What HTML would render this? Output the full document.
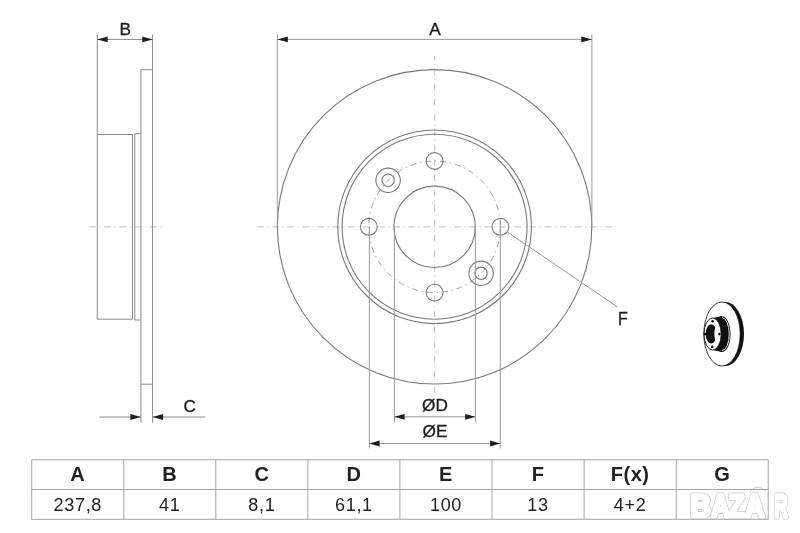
<!DOCTYPE html>
<html><head><meta charset="utf-8">
<style>
html,body{margin:0;padding:0;background:#fff;}
body{width:800px;height:533px;overflow:hidden;position:relative;}
svg{position:absolute;left:0;top:0;will-change:transform;}
text{font-family:"Liberation Sans",sans-serif;}
</style></head><body>
<svg width="800" height="533" viewBox="0 0 800 533">
<rect x="0" y="0" width="800" height="533" fill="#fff"/>

<!-- ===== SIDE VIEW ===== -->
<g fill="none" stroke="#9a9a9a" stroke-width="1">
  <!-- center line -->
  <line x1="89" y1="226.9" x2="162" y2="226.9" stroke="#cccccc" stroke-width="1.2" stroke-dasharray="6.75,3.7,1.1,3.64"/>
</g>
<g fill="none" stroke="#8a8a8a" stroke-width="1">
  <!-- hub -->
  <path d="M97.3,134.5 H132.5 V319.2 H97.3 Z"/>
  <!-- flange -->
  <path d="M134.8,133.8 H140.9 M134.8,133.8 V320 H140.9 M132.5,134.5 V319.2"/>
  <!-- plate -->
  <rect x="140.9" y="69.7" width="11.7" height="314.5"/>
  <!-- B extension -->
  <line x1="97.3" y1="34.5" x2="97.3" y2="134.5"/>
  <line x1="152.6" y1="34.5" x2="152.6" y2="69.7"/>
  <line x1="97.3" y1="39.4" x2="152.6" y2="39.4"/>
  <!-- C extension -->
  <line x1="140.9" y1="384.2" x2="140.9" y2="422.8"/>
  <line x1="152.6" y1="384.2" x2="152.6" y2="422.8"/>
  <line x1="99.5" y1="417" x2="140.9" y2="417"/>
  <line x1="152.6" y1="417" x2="205.3" y2="417"/>
</g>
<g fill="#1e1e1e">
  <path d="M97.3,39.4 L107.6,36.5 L107.6,42.3 Z"/>
  <path d="M152.6,39.4 L142.3,36.5 L142.3,42.3 Z"/>
  <path d="M140.9,417.0 L130.4,414.10 L130.4,419.90 Z"/>
  <path d="M152.6,417.0 L163.1,414.10 L163.1,419.90 Z"/>
</g>
<text x="125.3" y="34.6" font-size="17.2" text-anchor="middle" fill="#1a1a1a" stroke="#1a1a1a" stroke-width="0.3">B</text>
<text x="189.8" y="412" font-size="17.2" text-anchor="middle" fill="#1a1a1a" stroke="#1a1a1a" stroke-width="0.3">C</text>

<!-- ===== FRONT VIEW ===== -->
<g fill="none" stroke="#c0c0c0" stroke-width="1">
  <line x1="257" y1="226.9" x2="611.7" y2="226.9" stroke="#cdcdcd" stroke-width="1.2" stroke-dasharray="6.75,3.7,1.1,3.59"/>
  <line x1="434.6" y1="56" x2="434.6" y2="392.4" stroke="#cdcdcd" stroke-width="1.2" stroke-dasharray="6.75,3.7,1.1,3.59" stroke-dashoffset="2.64"/>
  <circle cx="434.6" cy="226.8" r="65.8" stroke="#a2a2a2" stroke-dasharray="6,3.8,1.4,3.8"/>
</g>
<g fill="none" stroke="#7a7a7a" stroke-width="1.1">
  <circle cx="434.6" cy="226.8" r="157.2"/>
  <circle cx="434.6" cy="226.8" r="96.8"/>
  <circle cx="434.6" cy="226.8" r="92.5"/>
  <circle cx="434.6" cy="226.8" r="40.7"/>
  <circle cx="500.4" cy="226.8" r="8.4"/>
  <circle cx="368.8" cy="226.8" r="8.4"/>
  <circle cx="434.6" cy="161" r="8.4"/>
  <circle cx="434.6" cy="292.6" r="8.4"/>
  <circle cx="388.1" cy="180.3" r="12.2"/>
  <circle cx="388.1" cy="180.3" r="6.15"/>
  <circle cx="481.1" cy="273.3" r="12.2"/>
  <circle cx="481.1" cy="273.3" r="6.15"/>
</g>
<g fill="none" stroke="#9a9a9a" stroke-width="1">
  <!-- A -->
  <line x1="277.3" y1="34.5" x2="277.3" y2="226.8"/>
  <line x1="591.9" y1="34.5" x2="591.9" y2="226.8"/>
  <line x1="277.3" y1="39.4" x2="591.9" y2="39.4"/>
  <!-- D -->
  <line x1="394.4" y1="226.8" x2="394.4" y2="422.4"/>
  <line x1="475.4" y1="226.8" x2="475.4" y2="422.4"/>
  <line x1="394.4" y1="416.8" x2="475.4" y2="416.8"/>
  <!-- E -->
  <line x1="369.4" y1="226.8" x2="369.4" y2="448.4"/>
  <line x1="500.3" y1="221" x2="500.3" y2="448.4"/>
  <line x1="369.4" y1="443.5" x2="500.3" y2="443.5"/>
  <!-- F leader -->
  <line x1="507.6" y1="232.2" x2="617.4" y2="306.9"/>
</g>
<g fill="#1e1e1e">
  <path d="M277.3,39.4 L287.9,36.5 L287.9,42.3 Z"/>
  <path d="M591.9,39.4 L581.3,36.5 L581.3,42.3 Z"/>
  <path d="M394.4,416.8 L404.6,413.90 L404.6,419.70 Z"/>
  <path d="M475.4,416.8 L465.2,413.90 L465.2,419.70 Z"/>
  <path d="M369.4,443.5 L379.6,440.6 L379.6,446.4 Z"/>
  <path d="M500.3,443.5 L490.1,440.6 L490.1,446.4 Z"/>
</g>
<text x="435" y="34.6" font-size="17.2" text-anchor="middle" fill="#1a1a1a" stroke="#1a1a1a" stroke-width="0.3">A</text>
<text x="435" y="410.5" font-size="17.2" text-anchor="middle" fill="#1a1a1a" stroke="#1a1a1a" stroke-width="0.3">ØD</text>
<text x="435" y="437" font-size="17.2" text-anchor="middle" fill="#1a1a1a" stroke="#1a1a1a" stroke-width="0.3">ØE</text>
<text transform="translate(617.9,325.3) scale(0.9,1)" font-size="17.8" fill="#1a1a1a" stroke="#1a1a1a" stroke-width="0.3">F</text>

<!-- ===== SMALL DISC ICON ===== -->
<g>
  <ellipse cx="725" cy="334" rx="19" ry="32.1" fill="#111"/>
  <ellipse cx="722" cy="334" rx="18.2" ry="32" fill="#fff" stroke="#111" stroke-width="0.8"/>
  <ellipse cx="722" cy="334.1" rx="8.6" ry="17.8" fill="#111"/>
  <path d="M712.6,318 L722,316.3 L722,351.9 L712.6,350 Z" fill="#111"/>
  <path d="M722,317.6 A7.2,16.4 0 0 1 722,350.6" fill="none" stroke="#fff" stroke-width="0.9"/>
  <ellipse cx="712.6" cy="334" rx="8.6" ry="16" fill="#fff" stroke="#111" stroke-width="0.9"/>
  <ellipse cx="711.2" cy="333.9" rx="5.5" ry="9.6" fill="#111"/>
  <ellipse cx="716.6" cy="334" rx="2.2" ry="7.8" fill="#fff"/>
  <circle cx="712.6" cy="321.3" r="1.3" fill="#111"/>
  <circle cx="719.4" cy="334.1" r="1.3" fill="#111"/>
  <circle cx="712.2" cy="346.9" r="1.3" fill="#111"/>
  <circle cx="705" cy="334.1" r="1.3" fill="#111"/>
</g>

<!-- ===== TABLE ===== -->

<g font-size="18" text-anchor="middle" fill="#222" letter-spacing="0.7">
  <g font-weight="bold" font-size="20" letter-spacing="0.5">
    <text x="77.8" y="481">A</text>
    <text x="169.8" y="481">B</text>
    <text x="261.9" y="481">C</text>
    <text x="353.9" y="481">D</text>
    <text x="446" y="481">E</text>
    <text x="538" y="481">F</text>
    <text x="630.1" y="481">F(x)</text>
    <text x="722.2" y="481">G</text>
  </g>
  <text x="77.8" y="510.6">237,8</text>
  <text x="169.8" y="510.6">41</text>
  <text x="261.9" y="510.6">8,1</text>
  <text x="353.9" y="510.6">61,1</text>
  <text x="446" y="510.6">100</text>
  <text x="538" y="510.6">13</text>
  <text x="630.1" y="510.6">4+2</text>
</g>

<!-- ===== WATERMARK ===== -->
<g font-size="32" font-weight="bold" fill="#fff" stroke-linejoin="round">
  <g stroke="#c6c6c6" stroke-width="5">
    <text transform="translate(690.6,517) scale(0.88,1)">B</text>
    <text transform="translate(711.2,517) scale(0.8,1)">A</text>
    <text transform="translate(728.6,517) scale(0.82,1)">Z</text>
    <text transform="translate(745,517) scale(0.84,1)">A</text>
    <text transform="translate(774.2,517) scale(0.58,1)">R</text>
  </g>
  <g stroke="#fff" stroke-width="3.4">
    <text transform="translate(690.6,517) scale(0.88,1)">B</text>
    <text transform="translate(711.2,517) scale(0.8,1)">A</text>
    <text transform="translate(728.6,517) scale(0.82,1)">Z</text>
    <text transform="translate(745,517) scale(0.84,1)">A</text>
    <text transform="translate(774.2,517) scale(0.58,1)">R</text>
  </g>
</g>
<path d="M749.5,492.5 Q753,487 757.5,487 Q762,487.5 765.5,491" fill="none" stroke="#c8c8c8" stroke-width="1"/>
<g fill="none" stroke="#a6a6a6" stroke-width="1">
  <rect x="31.7" y="459.8" width="736.5" height="59.5"/>
  <line x1="31.7" y1="489.5" x2="768.2" y2="489.5"/>
  <line x1="123.8" y1="459.8" x2="123.8" y2="519.3"/>
  <line x1="215.8" y1="459.8" x2="215.8" y2="519.3"/>
  <line x1="307.9" y1="459.8" x2="307.9" y2="519.3"/>
  <line x1="399.9" y1="459.8" x2="399.9" y2="519.3"/>
  <line x1="492" y1="459.8" x2="492" y2="519.3"/>
  <line x1="584.1" y1="459.8" x2="584.1" y2="519.3"/>
  <line x1="676.3" y1="459.8" x2="676.3" y2="519.3"/>
</g>
</svg>
</body></html>
